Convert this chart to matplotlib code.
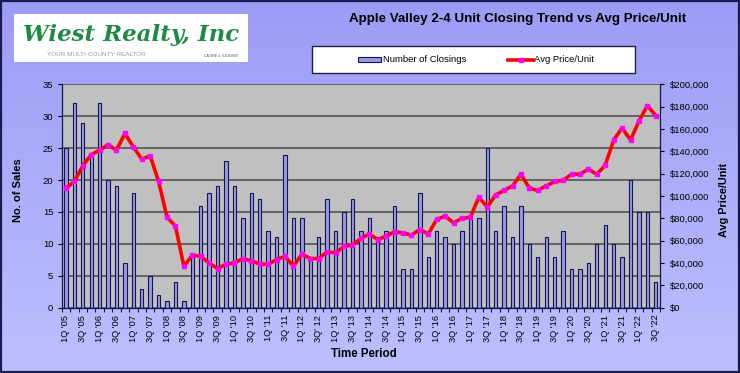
import numpy as np
import matplotlib.pyplot as plt
from matplotlib.patches import Rectangle
from matplotlib.lines import Line2D
from matplotlib.ticker import FuncFormatter, MultipleLocator, FixedLocator

plt.rcParams['font.family'] = ['Liberation Sans', 'DejaVu Sans']

# quarterly closings, 1Q'05 .. 3Q'22
closings = [25, 32, 29, 24, 32, 20, 19, 7, 18, 3, 5, 2, 1, 4, 1, 8, 16, 18,
            19, 23, 19, 14, 18, 17, 12, 11, 24, 14, 14, 8, 11, 17, 12, 15, 17,
            12, 14, 11, 12, 16, 6, 6, 18, 8, 12, 11, 10, 12, 14, 14, 25, 12,
            16, 11, 16, 10, 8, 11, 8, 12, 6, 6, 7, 10, 13, 10, 8, 20, 15, 15, 4]
avg_price = [107000, 113000, 127000, 137000, 141000, 146000, 141000, 156000,
             144000, 133000, 136000, 113000, 81000, 73000, 37000, 47000, 46000,
             40000, 35000, 39000, 40000, 44000, 42000, 39000, 39000, 43000,
             46000, 37000, 48000, 44000, 44000, 50000, 49000, 55000, 56000,
             62000, 66000, 61000, 64000, 68000, 67000, 65000, 70000, 66000,
             79000, 82000, 76000, 80000, 81000, 99000, 90000, 101000, 105000,
             109000, 119500, 107000, 105000, 109000, 113000, 114000, 119500,
             119500, 124000, 119500, 127500, 150000, 161000, 150000, 167000,
             181000, 172000]
tick_labels = ["1Q '05", "3Q '05", "1Q '06", "3Q '06", "1Q '07", "3Q '07",
               "1Q '08", "3Q '08", "1Q '09", "3Q '09", "1Q '10", "3Q '10",
               "1Q '11", "3Q '11", "1Q '12", "3Q' 12", "1Q '13", "3Q '13",
               "1Q '14", "3Q '14", "1Q '15", "3Q '15", "1Q '16", "3Q '16",
               "1Q '17", "3Q '17", "1Q '18", "3Q '18", "1Q '19", "3Q '19",
               "1Q '20", "3Q '20", "1Q '21", "3Q '21", "1Q '22", "3Q '22"]

W, H = 740, 373


def fx(px):
    return px / W


def fy(py):
    return 1 - py / H


fig = plt.figure(figsize=(W / 100, H / 100), dpi=100)

# lavender gradient background
bg = fig.add_axes([0, 0, 1, 1], zorder=-10)
grad = np.linspace(0, 1, 256)[:, None]
top = np.array([156, 156, 246]) / 255
bot = np.array([190, 190, 255]) / 255
img = top[None, None, :] * (1 - grad[..., None]) + bot[None, None, :] * grad[..., None]
bg.imshow(img, aspect='auto', extent=[0, 1, 0, 1])
bg.set_axis_off()

# logo block
fig.patches.append(Rectangle((fx(14), fy(62)), fx(234), 48 / H,
                             transform=fig.transFigure, facecolor='white',
                             edgecolor='none'))
fig.text(fx(131), fy(35), "Wiest Realty, Inc", fontsize=16.5, color='#1f8a45',
         family='DejaVu Serif', style='italic', fontweight='bold',
         ha='center', va='center')
fig.text(fx(96), fy(55), "YOUR MULTI-COUNTY REALTOR", fontsize=4.6,
         color='#9a9a9a', ha='center', va='center')
fig.text(fx(221), fy(56), "CA DRE #: 01183900", fontsize=2.6,
         color='#555555', ha='center', va='center')

fig.text(fx(518), fy(19), "Apple Valley 2-4 Unit Closing Trend vs Avg Price/Unit",
         fontsize=9.6, fontweight='bold', ha='center', va='center')

# legend box
fig.patches.append(Rectangle((fx(312), fy(73)), fx(323), 27 / H,
                             transform=fig.transFigure, facecolor='white',
                             edgecolor='#202040', linewidth=1.0))
fig.patches.append(Rectangle((fx(358), fy(62)), fx(23), 5 / H,
                             transform=fig.transFigure, facecolor='#9999e6',
                             edgecolor='#141450', linewidth=0.8))
fig.text(fx(383), fy(60), "Number of Closings", fontsize=6.8, ha='left', va='center')
fig.lines.append(Line2D([fx(508), fx(533)], [fy(60), fy(60)],
                        transform=fig.transFigure, color='#ff0000', linewidth=2.6))
fig.lines.append(Line2D([fx(520.5)], [fy(60)], transform=fig.transFigure,
                        marker='s', markersize=3.0, color='#ff00ff', linestyle='none'))
fig.text(fx(534), fy(60), "Avg Price/Unit", fontsize=6.8, ha='left', va='center')

# plot area
ax = fig.add_axes([fx(61.7), fy(307.7), fx(660 - 61.7), (307.7 - 84.3) / H])
ax.set_facecolor('#c0c0c0')
x = np.arange(len(closings))
ax.bar(x, closings, width=0.4, color='#9999e6', edgecolor='#141450',
       linewidth=0.8, zorder=2)
ax.set_xlim(-0.5, len(closings) - 0.5)
ax.set_ylim(0, 35)
ax.yaxis.set_major_locator(MultipleLocator(5))
ax.grid(axis='y', color='#555555', linewidth=1.2)
ax.set_axisbelow(True)
ax.xaxis.set_major_locator(FixedLocator(x[::2]))
ax.set_xticklabels(tick_labels, rotation=90, fontsize=6.7)
ax.xaxis.set_minor_locator(FixedLocator(np.arange(-0.5, len(closings), 1)))
ax.tick_params(axis='x', which='major', length=0, pad=5)
ax.tick_params(axis='x', which='minor', length=3, width=0.8, color='#141450')
ax.tick_params(axis='y', labelsize=6.8, length=3, width=0.8, pad=3)
for s in ['top', 'right']:
    ax.spines[s].set_visible(False)
for s in ['left', 'bottom']:
    ax.spines[s].set_color('#141450')
    ax.spines[s].set_linewidth(0.9)

ax2 = ax.twinx()
ax2.plot(x, avg_price, color='#ff0000', linewidth=2.6, zorder=3,
         solid_joinstyle='round')
ax2.plot(x, avg_price, linestyle='none', marker='s', markersize=3.0,
         color='#ff00ff', zorder=4)
ax2.set_ylim(0, 200000)
ax2.yaxis.set_major_locator(MultipleLocator(20000))
ax2.yaxis.set_major_formatter(FuncFormatter(lambda v, p: f"${v:,.0f}"))
ax2.tick_params(axis='y', labelsize=6.8, length=3, width=0.8, pad=4)
for s in ['top', 'left', 'bottom']:
    ax2.spines[s].set_visible(False)
ax2.spines['right'].set_color('#141450')
ax2.spines['right'].set_linewidth(0.9)

fig.text(fx(18), fy(190), "No. of Sales", rotation=90, fontsize=8,
         fontweight='bold', ha='center', va='center')
fig.text(fx(724), fy(200), "Avg Price/Unit", rotation=90, fontsize=7.8,
         fontweight='bold', ha='center', va='center')
fig.text(fx(364), fy(354), "Time Period", fontsize=8.3, fontweight='bold',
         ha='center', va='center')

# outer frame
fig.patches.append(Rectangle((0.001, 0.003), 0.998, 0.994, transform=fig.transFigure,
                             facecolor='none', edgecolor='#1a1a50', linewidth=1.6))

fig.savefig("out.png", dpi=100)
